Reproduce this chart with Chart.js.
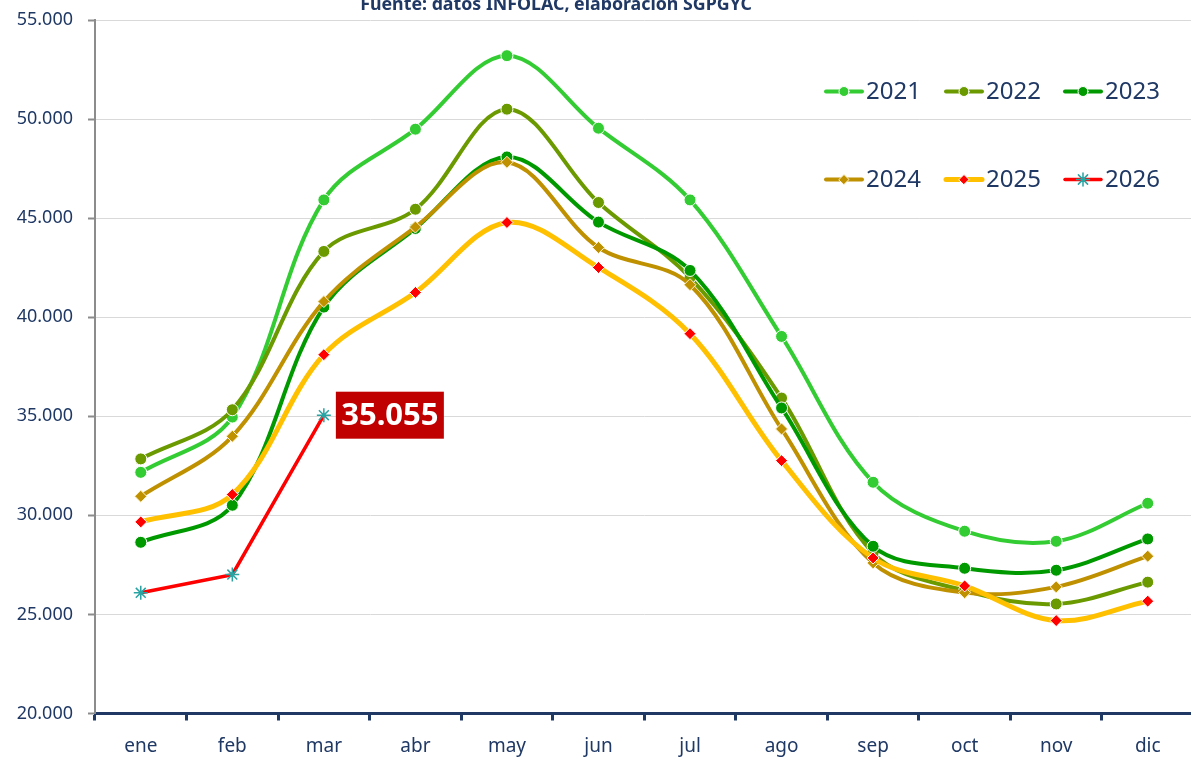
<!DOCTYPE html>
<html lang="es">
<head>
<meta charset="utf-8">
<title>Precios mensuales</title>
<script src="https://cdn.jsdelivr.net/npm/chart.js@4.4.1/dist/chart.umd.min.js"></script>
<style>
  html, body { margin: 0; padding: 0; background: #fff; overflow: hidden; }
  #wrap { width: 1202px; height: 758px; }
</style>
</head>
<body>
<div id="wrap"><canvas id="precioChart" width="1202" height="758"></canvas></div>
<script>
// datos
const meses = ['ene', 'feb', 'mar', 'abr', 'may', 'jun', 'jul', 'ago', 'sep', 'oct', 'nov', 'dic'];
const anios = ['2021', '2022', '2023', '2024', '2025', '2026'];
const serie2021 = [32170, 34960, 45920, 49490, 53200, 49540, 45920, 39030, 31670, 29200, 28690, 30610];
const serie2022 = [32850, 35330, 43320, 45450, 50500, 45790, 42000, 35920, 28100, 26200, 25530, 26630];
const serie2023 = [28640, 30510, 40510, 44480, 48090, 44800, 42360, 35420, 28440, 27330, 27230, 28810];
const serie2024 = [30960, 33990, 40790, 44550, 47820, 43520, 41640, 34360, 27600, 26100, 26390, 27940];
const serie2025 = [29670, 31050, 38110, 41250, 44780, 42510, 39170, 32760, 27850, 26440, 24690, 25670];
const serie2026 = [26090, 27010, 35055];
const ejeY = { min: 20000, max: 55000, paso: 5000 };

const azul = '#1f3864';
const fuente = '"Noto Sans", "Open Sans", sans-serif';

function formatoMiles(v) {
    return Math.round(v).toString().replace(/\B(?=(\d{3})+(?!\d))/g, '.');
}

function serie(label, data, color, opciones) {
    return Object.assign({
        label: label,
        data: data,
        borderColor: color,
        backgroundColor: color,
        pointBackgroundColor: color,
        pointBorderColor: '#ffffff',
        pointBorderWidth: 1,
        pointRadius: 6,
        pointStyle: 'circle',
        borderWidth: 4,
        tension: 0.35,
        fill: false
    }, opciones || {});
}

const datasets = [
    serie(anios[0], serie2021, '#33cc33', { order: 5 }),
    serie(anios[1], serie2022, '#6b9a00', { order: 4 }),
    serie(anios[2], serie2023, '#009900', { order: 3 }),
    serie(anios[3], serie2024, '#bf9000', { order: 2, pointStyle: 'rectRot', pointRadius: 6, pointBorderColor: '#fff2cc' }),
    serie(anios[4], serie2025, '#ffc000', { order: 1, pointStyle: 'rectRot', pointRadius: 6, pointBackgroundColor: '#ff0000', borderWidth: 5 }),
    serie(anios[5], serie2026, '#ff0000', { order: 0, pointStyle: 'star', pointRadius: 7, pointBorderColor: '#2aa3a3', pointBackgroundColor: '#2aa3a3', pointBorderWidth: 1.5, borderWidth: 3.5, tension: 0 })
];

// Título (recortado arriba como en el original)
const tituloPlugin = {
    id: 'tituloFuente',
    afterDraw(chart) {
        const ctx = chart.ctx;
        const texto = 'Fuente: datos INFOLAC, elaboración SGPGYC';
        ctx.save();
        ctx.font = 'bold 19px ' + fuente;
        const ancho = ctx.measureText(texto).width;
        const size = 19 * 392 / ancho;
        ctx.font = 'bold ' + size.toFixed(1) + 'px ' + fuente;
        ctx.fillStyle = azul;
        ctx.textAlign = 'center';
        ctx.textBaseline = 'alphabetic';
        ctx.fillText(texto, 556, 10);
        ctx.restore();
    }
};

// Leyenda en dos filas dentro del área del gráfico
const leyendaPlugin = {
    id: 'leyendaGrid',
    afterDraw(chart) {
        const ctx = chart.ctx;
        const columnas = [826, 946, 1065];
        const filas = [91.5, 179.5];
        ctx.save();
        chart.data.datasets.forEach((ds, i) => {
            const x = columnas[i % 3];
            const y = filas[Math.floor(i / 3)];
            ctx.strokeStyle = ds.borderColor;
            ctx.lineWidth = ds.borderWidth;
            ctx.lineCap = 'round';
            ctx.beginPath();
            ctx.moveTo(x, y);
            ctx.lineTo(x + 36, y);
            ctx.stroke();
            ctx.fillStyle = ds.pointBackgroundColor;
            ctx.strokeStyle = ds.pointBorderColor;
            ctx.lineWidth = ds.pointBorderWidth;
            Chart.helpers.drawPoint(ctx, {
                pointStyle: ds.pointStyle,
                rotation: 0,
                radius: ds.pointStyle === 'star' ? 6.5 : 5,
                borderWidth: ds.pointBorderWidth
            }, x + 18, y);
            ctx.fillStyle = azul;
            ctx.font = '24px ' + fuente;
            ctx.textAlign = 'left';
            ctx.textBaseline = 'middle';
            ctx.fillText(ds.label, x + 40, y + 1);
        });
        ctx.restore();
    }
};

// Etiqueta del último dato de 2026
const etiquetaPlugin = {
    id: 'etiquetaUltimo',
    afterDatasetsDraw(chart) {
        const meta = chart.getDatasetMeta(5);
        const idx = serie2026.length - 1;
        const pt = meta.data[idx];
        if (!pt) return;
        const ctx = chart.ctx;
        const w = 108, h = 47;
        const x0 = pt.x + 12, y0 = pt.y - h / 2;
        ctx.save();
        ctx.fillStyle = '#c00000';
        ctx.fillRect(x0, y0, w, h);
        ctx.fillStyle = '#ffffff';
        ctx.font = 'bold 31px ' + fuente;
        ctx.textAlign = 'center';
        ctx.textBaseline = 'middle';
        ctx.fillText(formatoMiles(serie2026[idx]), x0 + w / 2, y0 + h / 2 + 1);
        ctx.restore();
    }
};

const ctx = document.getElementById('precioChart').getContext('2d');
new Chart(ctx, {
    type: 'line',
    data: { labels: meses, datasets: datasets },
    plugins: [tituloPlugin, leyendaPlugin, etiquetaPlugin],
    options: {
        responsive: false,
        animation: false,
        layout: { padding: { top: 20, right: 0, bottom: 0, left: 0 } },
        plugins: {
            legend: { display: false },
            title: { display: false },
            tooltip: { enabled: false }
        },
        scales: {
            x: {
                offset: true,
                grid: {
                    offset: true,
                    drawOnChartArea: false,
                    drawTicks: true,
                    tickLength: 7,
                    tickColor: azul,
                    tickWidth: 3
                },
                border: { display: true, color: azul, width: 3 },
                ticks: { color: azul, font: { family: fuente, size: 19 }, padding: 15, maxRotation: 0 },
                afterFit(s) { s.height = 44.5; }
            },
            y: {
                min: ejeY.min,
                max: ejeY.max,
                ticks: {
                    stepSize: ejeY.paso,
                    color: azul,
                    font: { family: fuente, size: 18 },
                    padding: 15,
                    callback: v => formatoMiles(v)
                },
                grid: {
                    color: '#d9d9d9',
                    lineWidth: 1,
                    tickLength: 7,
                    tickColor: '#8c8c8c',
                    tickWidth: 2
                },
                border: { display: true, color: '#8c8c8c', width: 2 },
                afterFit(s) { s.width = 95; s.paddingTop = 0; s.paddingBottom = 0; }
            }
        }
    }
});
</script>
</body>
</html>
